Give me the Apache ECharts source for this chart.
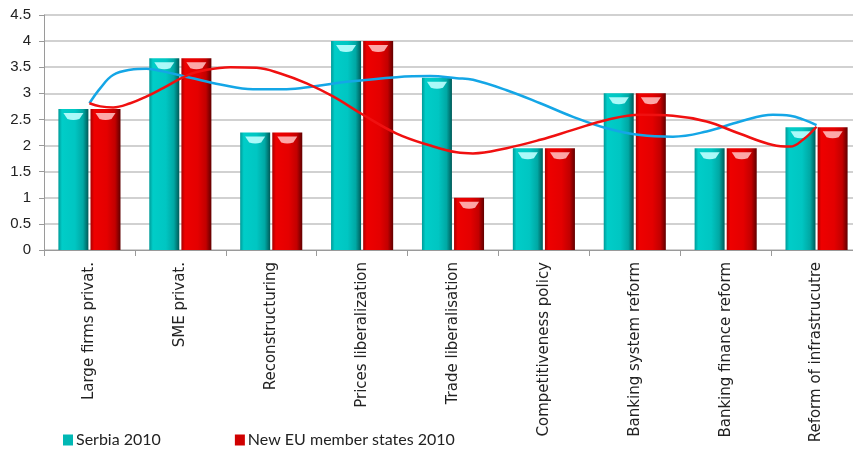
<!DOCTYPE html>
<html>
<head>
<meta charset="utf-8">
<script src="https://cdn.jsdelivr.net/npm/echarts@6/dist/echarts.min.js"></script>
<style>
  html, body { margin: 0; padding: 0; background: #fff; overflow: hidden; }
  #chart { width: 880px; height: 457px; }
</style>
</head>
<body>
<div id="chart"></div>
<script>
// Reform areas (x-axis categories)
const categories = [
  'Large firms privat.',
  'SME privat.',
  'Reconstructuring',
  'Prices liberalization',
  'Trade liberalisation',
  'Competitiveness policy',
  'Banking system reform',
  'Banking finance reform',
  'Reform of infrastrucutre'
];

// Transition scores per reform area
const serbia2010 = [2.7, 3.67, 2.25, 4, 3.3, 1.95, 3, 1.95, 2.35];
const newEU2010  = [2.7, 3.67, 2.25, 4, 1, 1.95, 3, 1.95, 2.35];

// Trend curves: position along the category axis (category i centred at i + 0.5) and level
const serbiaTrendPos = [0.5, 0.62, 0.76, 0.95, 1.13, 1.31, 1.61, 1.94, 2.3, 2.67, 2.96, 3.33, 3.88, 4.25, 4.54, 4.72, 5.09, 5.46, 5.82, 6.19, 6.56, 6.92, 7.29, 7.66, 8.02, 8.21, 8.35, 8.5];
const serbiaTrend    = [2.81, 3.1, 3.35, 3.45, 3.47, 3.42, 3.3, 3.17, 3.08, 3.08, 3.13, 3.22, 3.31, 3.33, 3.29, 3.26, 3.06, 2.81, 2.55, 2.33, 2.2, 2.17, 2.27, 2.46, 2.59, 2.57, 2.5, 2.39];
const newEUTrendPos  = [0.5, 0.62, 0.76, 0.95, 1.13, 1.31, 1.57, 1.79, 2.05, 2.34, 2.6, 2.89, 3.18, 3.51, 3.88, 4.25, 4.54, 4.72, 5.09, 5.46, 5.82, 6.19, 6.56, 6.92, 7.29, 7.65, 8.02, 8.21, 8.35, 8.5];
const newEUTrend     = [2.81, 2.75, 2.73, 2.81, 2.94, 3.1, 3.34, 3.45, 3.5, 3.49, 3.38, 3.19, 2.94, 2.59, 2.23, 2.0, 1.87, 1.85, 1.95, 2.11, 2.3, 2.49, 2.59, 2.57, 2.46, 2.23, 2.01, 1.98, 2.11, 2.36];

// Y-axis scale
const yMin = 0, yMax = 4.5, yStep = 0.5;

const zip = (xs, ys) => xs.map((x, i) => [x, ys[i]]);

const tealFill = new echarts.graphic.LinearGradient(0, 0, 1, 0, [
  { offset: 0, color: '#009a98' },
  { offset: 0.12, color: '#00cdc8' },
  { offset: 0.55, color: '#00c6c2' },
  { offset: 0.82, color: '#00a8a4' },
  { offset: 1, color: '#005a58' }
]);
const redFill = new echarts.graphic.LinearGradient(0, 0, 1, 0, [
  { offset: 0, color: '#a80000' },
  { offset: 0.12, color: '#ee0000' },
  { offset: 0.55, color: '#e40000' },
  { offset: 0.82, color: '#c20000' },
  { offset: 1, color: '#600000' }
]);

// Bevel highlight drawn just under each bar top
const capPath = 'path://M0,0 L20,0 L16,6 Q10,8 4,6 Z';

const barWidth = 30;
const barGap = '7%';

const chart = echarts.init(document.getElementById('chart'), null, { renderer: 'canvas' });

chart.setOption({
  animation: false,
  backgroundColor: '#ffffff',
  textStyle: { fontFamily: 'DejaVu Sans' },
  grid: { left: 44, right: 18, top: 15, bottom: 207, containLabel: false },
  legend: {
    data: [
      { name: 'Serbia 2010', itemStyle: { color: '#00b8b4' } },
      { name: 'New EU member states 2010', itemStyle: { color: '#d00000' } }
    ],
    left: 58,
    top: 427,
    itemWidth: 10,
    itemHeight: 11,
    itemGap: 74,
    icon: 'rect',
    textStyle: { fontFamily: 'Lato', fontSize: 16, color: '#222', padding: [0, 0, 0, -2] }
  },
  xAxis: [
    {
      type: 'category',
      data: categories,
      axisLine: { lineStyle: { color: '#9a9a9a', width: 1 } },
      axisTick: { show: true, length: 6, lineStyle: { color: '#9a9a9a' } },
      axisLabel: {
        rotate: 90,
        margin: 12,
        fontSize: 15,
        color: '#222',
        fontFamily: 'DejaVu Sans'
      }
    },
    {
      type: 'value',
      min: 0,
      max: categories.length,
      show: false
    }
  ],
  yAxis: {
    type: 'value',
    min: yMin,
    max: yMax,
    interval: yStep,
    axisLine: { show: true, lineStyle: { color: '#9a9a9a', width: 1 } },
    axisTick: { show: true, length: 5, lineStyle: { color: '#9a9a9a' } },
    axisLabel: {
      margin: 13,
      fontSize: 15,
      color: '#222',
      fontFamily: 'Liberation Sans'
    },
    splitLine: { lineStyle: { color: '#c2c2c2', width: 1.5 } }
  },
  series: [
    {
      name: 'Serbia 2010',
      type: 'bar',
      data: serbia2010,
      barWidth: barWidth,
      barGap: barGap,
      itemStyle: { color: tealFill }
    },
    {
      name: 'New EU member states 2010',
      type: 'bar',
      data: newEU2010,
      barWidth: barWidth,
      barGap: barGap,
      itemStyle: { color: redFill }
    },
    {
      name: 'Serbia 2010',
      type: 'pictorialBar',
      data: serbia2010,
      barWidth: barWidth,
      barGap: barGap,
      symbol: capPath,
      symbolSize: [20, 7],
      symbolPosition: 'end',
      symbolOffset: [0, 4],
      z: 3,
      silent: true,
      itemStyle: { color: 'rgba(190,255,255,0.9)' }
    },
    {
      name: 'New EU member states 2010',
      type: 'pictorialBar',
      data: newEU2010,
      barWidth: barWidth,
      barGap: barGap,
      symbol: capPath,
      symbolSize: [20, 7],
      symbolPosition: 'end',
      symbolOffset: [0, 4],
      z: 3,
      silent: true,
      itemStyle: { color: 'rgba(255,185,185,0.9)' }
    },
    {
      name: 'Serbia trend',
      type: 'line',
      xAxisIndex: 1,
      data: zip(serbiaTrendPos, serbiaTrend),
      smooth: 0.4,
      showSymbol: false,
      z: 5,
      lineStyle: { color: '#14a6e6', width: 2.5 }
    },
    {
      name: 'New EU trend',
      type: 'line',
      xAxisIndex: 1,
      data: zip(newEUTrendPos, newEUTrend),
      smooth: 0.4,
      showSymbol: false,
      z: 5,
      lineStyle: { color: '#f01010', width: 2.5 }
    }
  ]
});
</script>
</body>
</html>
